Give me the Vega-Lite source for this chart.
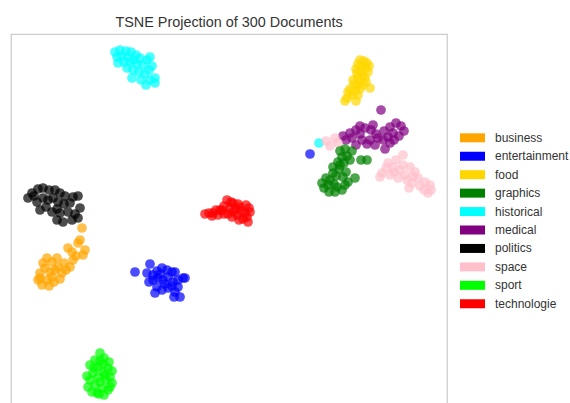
{
  "$schema": "https://vega.github.io/schema/vega-lite/v6.json",
  "width": 436,
  "height": 375,
  "autosize": {"type": "none"},
  "padding": {"left": 11, "top": 34, "right": 123, "bottom": -6},
  "title": {"text": "TSNE Projection of 300 Documents", "fontSize": 14.4, "font": "Liberation Sans", "fontWeight": "normal", "color": "#333333", "anchor": "middle", "offset": 4},
  "config": {
    "view": {"stroke": "#cccccc", "strokeWidth": 1.25},
    "font": "Liberation Sans"
  },
  "data": {"values": [
    {"x":115,"y":52,"c":"historical"},{"x":120,"y":50,"c":"historical"},{"x":126,"y":51,"c":"historical"},{"x":131,"y":52,"c":"historical"},{"x":136,"y":55,"c":"historical"},{"x":117,"y":57,"c":"historical"},{"x":122,"y":56,"c":"historical"},{"x":128,"y":57,"c":"historical"},{"x":134,"y":60,"c":"historical"},{"x":140,"y":58,"c":"historical"},{"x":147,"y":60,"c":"historical"},{"x":150,"y":57,"c":"historical"},{"x":118,"y":63,"c":"historical"},{"x":124,"y":62,"c":"historical"},{"x":130,"y":62,"c":"historical"},{"x":137,"y":64,"c":"historical"},{"x":143,"y":65,"c":"historical"},{"x":152,"y":66,"c":"historical"},{"x":149,"y":70,"c":"historical"},{"x":127,"y":68,"c":"historical"},{"x":133,"y":70,"c":"historical"},{"x":139,"y":72,"c":"historical"},{"x":145,"y":74,"c":"historical"},{"x":155,"y":78,"c":"historical"},{"x":150,"y":80,"c":"historical"},{"x":141,"y":80,"c":"historical"},{"x":132,"y":78,"c":"historical"},{"x":146,"y":85,"c":"historical"},{"x":155,"y":83,"c":"historical"},{"x":319,"y":143,"c":"historical"},
    {"x":360,"y":60,"c":"food"},{"x":364,"y":61,"c":"food"},{"x":367,"y":63,"c":"food"},{"x":358,"y":64,"c":"food"},{"x":362,"y":66,"c":"food"},{"x":366,"y":68,"c":"food"},{"x":356,"y":69,"c":"food"},{"x":361,"y":71,"c":"food"},{"x":368,"y":72,"c":"food"},{"x":363,"y":75,"c":"food"},{"x":358,"y":77,"c":"food"},{"x":365,"y":78,"c":"food"},{"x":360,"y":81,"c":"food"},{"x":354,"y":84,"c":"food"},{"x":357,"y":86,"c":"food"},{"x":363,"y":85,"c":"food"},{"x":370,"y":88,"c":"food"},{"x":350,"y":89,"c":"food"},{"x":355,"y":91,"c":"food"},{"x":352,"y":95,"c":"food"},{"x":358,"y":95,"c":"food"},{"x":347,"y":98,"c":"food"},{"x":345,"y":101,"c":"food"},{"x":356,"y":101,"c":"food"},{"x":348,"y":92,"c":"food"},{"x":360,"y":89,"c":"food"},{"x":366,"y":82,"c":"food"},{"x":353,"y":80,"c":"food"},{"x":369,"y":66,"c":"food"},{"x":357,"y":73,"c":"food"},
    {"x":381,"y":110,"c":"medical"},{"x":360,"y":126,"c":"medical"},{"x":343,"y":136,"c":"medical"},{"x":350,"y":133,"c":"medical"},{"x":356,"y":130,"c":"medical"},{"x":365,"y":128,"c":"medical"},{"x":371,"y":130,"c":"medical"},{"x":376,"y":134,"c":"medical"},{"x":384,"y":131,"c":"medical"},{"x":390,"y":127,"c":"medical"},{"x":396,"y":123,"c":"medical"},{"x":401,"y":126,"c":"medical"},{"x":404,"y":131,"c":"medical"},{"x":393,"y":133,"c":"medical"},{"x":388,"y":137,"c":"medical"},{"x":383,"y":140,"c":"medical"},{"x":378,"y":138,"c":"medical"},{"x":370,"y":140,"c":"medical"},{"x":362,"y":140,"c":"medical"},{"x":356,"y":145,"c":"medical"},{"x":367,"y":144,"c":"medical"},{"x":352,"y":138,"c":"medical"},{"x":346,"y":140,"c":"medical"},{"x":385,"y":149,"c":"medical"},{"x":390,"y":143,"c":"medical"},{"x":399,"y":136,"c":"medical"},{"x":375,"y":145,"c":"medical"},{"x":360,"y":134,"c":"medical"},{"x":394,"y":140,"c":"medical"},{"x":373,"y":125,"c":"medical"},
    {"x":335,"y":138,"c":"space"},{"x":330,"y":146,"c":"space"},{"x":326,"y":141,"c":"space"},{"x":338,"y":143,"c":"space"},{"x":403,"y":155,"c":"space"},{"x":388,"y":163,"c":"space"},{"x":393,"y":167,"c":"space"},{"x":382,"y":173,"c":"space"},{"x":394,"y":172,"c":"space"},{"x":400,"y":170,"c":"space"},{"x":405,"y":175,"c":"space"},{"x":410,"y":167,"c":"space"},{"x":407,"y":180,"c":"space"},{"x":412,"y":183,"c":"space"},{"x":418,"y":178,"c":"space"},{"x":425,"y":182,"c":"space"},{"x":430,"y":185,"c":"space"},{"x":428,"y":193,"c":"space"},{"x":424,"y":190,"c":"space"},{"x":398,"y":178,"c":"space"},{"x":415,"y":172,"c":"space"},{"x":390,"y":175,"c":"space"},{"x":409,"y":188,"c":"space"},{"x":420,"y":186,"c":"space"},{"x":386,"y":168,"c":"space"},{"x":396,"y":160,"c":"space"},{"x":403,"y":165,"c":"space"},{"x":413,"y":176,"c":"space"},{"x":431,"y":190,"c":"space"},{"x":380,"y":177,"c":"space"},
    {"x":340,"y":151,"c":"graphics"},{"x":345,"y":149,"c":"graphics"},{"x":352,"y":151,"c":"graphics"},{"x":342,"y":157,"c":"graphics"},{"x":347,"y":156,"c":"graphics"},{"x":338,"y":162,"c":"graphics"},{"x":344,"y":163,"c":"graphics"},{"x":361,"y":160,"c":"graphics"},{"x":367,"y":160,"c":"graphics"},{"x":333,"y":167,"c":"graphics"},{"x":339,"y":169,"c":"graphics"},{"x":346,"y":172,"c":"graphics"},{"x":333,"y":173,"c":"graphics"},{"x":343,"y":177,"c":"graphics"},{"x":326,"y":178,"c":"graphics"},{"x":322,"y":183,"c":"graphics"},{"x":328,"y":185,"c":"graphics"},{"x":334,"y":184,"c":"graphics"},{"x":337,"y":187,"c":"graphics"},{"x":342,"y":190,"c":"graphics"},{"x":324,"y":188,"c":"graphics"},{"x":330,"y":180,"c":"graphics"},{"x":348,"y":182,"c":"graphics"},{"x":355,"y":178,"c":"graphics"},{"x":336,"y":176,"c":"graphics"},{"x":340,"y":165,"c":"graphics"},{"x":350,"y":160,"c":"graphics"},{"x":329,"y":192,"c":"graphics"},{"x":335,"y":192,"c":"graphics"},{"x":345,"y":185,"c":"graphics"},
    {"x":32,"y":193,"c":"politics"},{"x":38,"y":189,"c":"politics"},{"x":43,"y":188,"c":"politics"},{"x":49,"y":190,"c":"politics"},{"x":55,"y":190,"c":"politics"},{"x":60,"y":193,"c":"politics"},{"x":65,"y":196,"c":"politics"},{"x":73,"y":197,"c":"politics"},{"x":78,"y":196,"c":"politics"},{"x":28,"y":198,"c":"politics"},{"x":37,"y":202,"c":"politics"},{"x":43,"y":198,"c":"politics"},{"x":48,"y":200,"c":"politics"},{"x":53,"y":198,"c":"politics"},{"x":58,"y":202,"c":"politics"},{"x":64,"y":204,"c":"politics"},{"x":70,"y":203,"c":"politics"},{"x":80,"y":208,"c":"politics"},{"x":40,"y":210,"c":"politics"},{"x":46,"y":207,"c":"politics"},{"x":52,"y":212,"c":"politics"},{"x":57,"y":209,"c":"politics"},{"x":60,"y":213,"c":"politics"},{"x":68,"y":212,"c":"politics"},{"x":75,"y":214,"c":"politics"},{"x":57,"y":220,"c":"politics"},{"x":63,"y":222,"c":"politics"},{"x":72,"y":220,"c":"politics"},{"x":78,"y":218,"c":"politics"},{"x":34,"y":196,"c":"politics"},
    {"x":82,"y":228,"c":"business"},{"x":78,"y":243,"c":"business"},{"x":80,"y":240,"c":"business"},{"x":68,"y":248,"c":"business"},{"x":83,"y":255,"c":"business"},{"x":73,"y":260,"c":"business"},{"x":57,"y":258,"c":"business"},{"x":47,"y":258,"c":"business"},{"x":52,"y":262,"c":"business"},{"x":43,"y":263,"c":"business"},{"x":58,"y":267,"c":"business"},{"x":64,"y":263,"c":"business"},{"x":70,"y":267,"c":"business"},{"x":40,"y":273,"c":"business"},{"x":50,"y":272,"c":"business"},{"x":62,"y":273,"c":"business"},{"x":55,"y":270,"c":"business"},{"x":38,"y":280,"c":"business"},{"x":47,"y":280,"c":"business"},{"x":42,"y":285,"c":"business"},{"x":52,"y":277,"c":"business"},{"x":45,"y":268,"c":"business"},{"x":76,"y":256,"c":"business"},{"x":60,"y":279,"c":"business"},{"x":49,"y":286,"c":"business"},{"x":66,"y":270,"c":"business"},{"x":40,"y":278,"c":"business"},{"x":54,"y":282,"c":"business"},{"x":72,"y":252,"c":"business"},{"x":85,"y":250,"c":"business"},
    {"x":135,"y":272,"c":"entertainment"},{"x":150,"y":264,"c":"entertainment"},{"x":147,"y":273,"c":"entertainment"},{"x":153,"y":275,"c":"entertainment"},{"x":157,"y":271,"c":"entertainment"},{"x":162,"y":268,"c":"entertainment"},{"x":167,"y":270,"c":"entertainment"},{"x":172,"y":272,"c":"entertainment"},{"x":175,"y":272,"c":"entertainment"},{"x":183,"y":278,"c":"entertainment"},{"x":185,"y":278,"c":"entertainment"},{"x":153,"y":280,"c":"entertainment"},{"x":158,"y":278,"c":"entertainment"},{"x":163,"y":280,"c":"entertainment"},{"x":168,"y":277,"c":"entertainment"},{"x":173,"y":282,"c":"entertainment"},{"x":178,"y":280,"c":"entertainment"},{"x":157,"y":287,"c":"entertainment"},{"x":162,"y":290,"c":"entertainment"},{"x":168,"y":288,"c":"entertainment"},{"x":172,"y":286,"c":"entertainment"},{"x":178,"y":287,"c":"entertainment"},{"x":155,"y":293,"c":"entertainment"},{"x":175,"y":292,"c":"entertainment"},{"x":180,"y":297,"c":"entertainment"},{"x":174,"y":297,"c":"entertainment"},{"x":165,"y":284,"c":"entertainment"},{"x":149,"y":282,"c":"entertainment"},{"x":160,"y":274,"c":"entertainment"},{"x":310,"y":154,"c":"entertainment"},
    {"x":205,"y":214,"c":"technologie"},{"x":209,"y":213,"c":"technologie"},{"x":213,"y":213,"c":"technologie"},{"x":216,"y":210,"c":"technologie"},{"x":220,"y":210,"c":"technologie"},{"x":224,"y":206,"c":"technologie"},{"x":227,"y":200,"c":"technologie"},{"x":231,"y":202,"c":"technologie"},{"x":233,"y":203,"c":"technologie"},{"x":238,"y":204,"c":"technologie"},{"x":240,"y":207,"c":"technologie"},{"x":246,"y":205,"c":"technologie"},{"x":249,"y":208,"c":"technologie"},{"x":245,"y":213,"c":"technologie"},{"x":241,"y":211,"c":"technologie"},{"x":237,"y":215,"c":"technologie"},{"x":233,"y":212,"c":"technologie"},{"x":228,"y":214,"c":"technologie"},{"x":224,"y":214,"c":"technologie"},{"x":218,"y":215,"c":"technologie"},{"x":248,"y":222,"c":"technologie"},{"x":243,"y":219,"c":"technologie"},{"x":247,"y":217,"c":"technologie"},{"x":236,"y":209,"c":"technologie"},{"x":230,"y":208,"c":"technologie"},{"x":250,"y":212,"c":"technologie"},{"x":239,"y":220,"c":"technologie"},{"x":232,"y":217,"c":"technologie"},{"x":222,"y":210,"c":"technologie"},{"x":212,"y":216,"c":"technologie"},
    {"x":100,"y":353,"c":"sport"},{"x":104,"y":358,"c":"sport"},{"x":95,"y":360,"c":"sport"},{"x":90,"y":365,"c":"sport"},{"x":98,"y":367,"c":"sport"},{"x":108,"y":368,"c":"sport"},{"x":103,"y":364,"c":"sport"},{"x":93,"y":373,"c":"sport"},{"x":103,"y":372,"c":"sport"},{"x":110,"y":377,"c":"sport"},{"x":98,"y":377,"c":"sport"},{"x":90,"y":380,"c":"sport"},{"x":100,"y":382,"c":"sport"},{"x":112,"y":383,"c":"sport"},{"x":106,"y":380,"c":"sport"},{"x":95,"y":385,"c":"sport"},{"x":102,"y":388,"c":"sport"},{"x":92,"y":392,"c":"sport"},{"x":108,"y":390,"c":"sport"},{"x":97,"y":393,"c":"sport"},{"x":105,"y":375,"c":"sport"},{"x":87,"y":376,"c":"sport"},{"x":112,"y":371,"c":"sport"},{"x":94,"y":368,"c":"sport"},{"x":100,"y":361,"c":"sport"},{"x":110,"y":387,"c":"sport"},{"x":88,"y":387,"c":"sport"},{"x":99,"y":394,"c":"sport"},{"x":104,"y":395,"c":"sport"},{"x":109,"y":362,"c":"sport"}
  ]},
  "mark": {"type": "circle", "size": 95, "opacity": 0.7, "strokeWidth": 0},
  "encoding": {
    "x": {"field": "x", "type": "quantitative", "scale": {"domain": [11, 447], "zero": false, "nice": false}, "axis": null},
    "y": {"field": "y", "type": "quantitative", "scale": {"domain": [34, 409], "zero": false, "nice": false, "reverse": true}, "axis": null},
    "color": {
      "field": "c", "type": "nominal",
      "scale": {
        "domain": ["business", "entertainment", "food", "graphics", "historical", "medical", "politics", "space", "sport", "technologie"],
        "range": ["#FFA500", "#0000FF", "#FFD700", "#008000", "#00FFFF", "#800080", "#000000", "#FFC0CB", "#00FF00", "#FF0000"]
      },
      "legend": {
        "title": null,
        "orient": "none",
        "legendX": 455.5,
        "legendY": 97.8,
        "padding": 0,
        "symbolType": "M-2.083,-0.75H2.083V0.75H-2.083Z",
        "symbolSize": 144,
        "symbolOpacity": 1,
        "symbolStrokeWidth": 0,
        "rowPadding": 6.44,
        "labelOffset": 16.5,
        "labelFontSize": 12,
        "labelFont": "Liberation Sans",
        "labelColor": "#333333",
        "labelLimit": 200
      }
    }
  }
}
